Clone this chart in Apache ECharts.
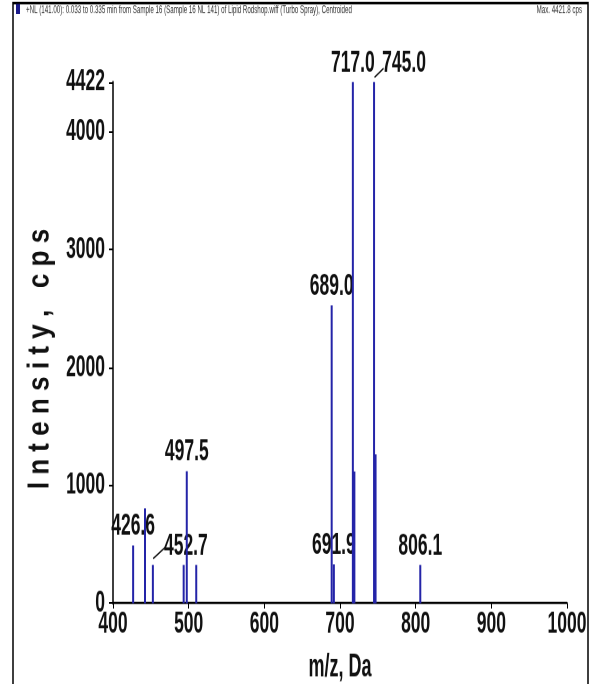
<!DOCTYPE html>
<html>
<head>
<meta charset="utf-8">
<script src="https://cdn.jsdelivr.net/npm/echarts@6/dist/echarts.min.js"></script>
<style>
html,body{margin:0;padding:0;background:#fff;overflow:hidden;}
#wrap{width:594px;height:685px;overflow:hidden;}
#chart{width:594px;transform-origin:0 0;}
</style>
</head>
<body>
<div id="wrap"><div id="chart"></div></div>
<script>
// Peak list (m/z, Da) and intensities (cps)
const peakMz = [426.6, 442.3, 452.7, 493.4, 497.5, 510.0, 689.0, 691.9, 717.0, 719.0, 745.0, 747.0, 806.1];
const peakIntensity = [490, 805, 325, 325, 1120, 325, 2527, 330, 4422, 1119, 4422, 1263, 325];
// Annotated peaks
const labelMz = [426.6, 452.7, 497.5, 689.0, 691.9, 717.0, 745.0, 806.1];
const labelIntensity = [490, 325, 1120, 2527, 330, 4422, 4422, 325];
const labelText = ['426.6', '452.7', '497.5', '689.0', '691.9', '717.0', '745.0', '806.1'];
// Axes
const xMin = 400, xMax = 1000, xStep = 100;
const yMin = 0, yMax = 4422, yStep = 1000;
const xName = 'm/z, Da';
const yName = 'I n t e n s i t y ,   c p s';
const titleText = '+NL (141.00): 0.033 to 0.335 min from Sample 16 (Sample 16 NL 141) of Lipid Rodshop.wiff (Turbo Spray), Centroided';
const maxText = 'Max. 4421.8 cps';

// ---- styling / layout (page is stretched vertically like the original print) ----
const K = 1.75;                 // vertical stretch factor
const W = 594, H = 685 / K;
const el = document.getElementById('chart');
el.style.height = H + 'px';
el.style.transform = 'scale(1,' + K + ')';
const FONT = "'Liberation Sans','Arial',sans-serif";
const LABEL_RISE = 19 / K;
const labelExtra = {
  '452.7': {dx: 33, leader: [0.3, -6.4 / K, 12, -17.4 / K]},
  '745.0': {dx: 30, leader: [0.5, -4.7 / K, 9.5, -13.7 / K]}
};

const chart = echarts.init(el, null, {renderer: 'canvas', devicePixelRatio: 2});
chart.setOption({
  animation: false,
  backgroundColor: '#fff',
  grid: {left: 113, right: 27, top: 82 / K, bottom: 81 / K, containLabel: false, outerBoundsMode: 'none'},
  xAxis: {
    type: 'value', min: xMin, max: xMax, interval: xStep,
    name: xName, nameLocation: 'middle', nameGap: 28,
    nameTextStyle: {fontFamily: FONT, fontSize: 18, fontWeight: 'bold', color: '#111'},
    axisLine: {lineStyle: {color: '#000', width: 1.3}},
    axisTick: {show: true, length: 3, lineStyle: {color: '#000'}},
    axisLabel: {fontFamily: FONT, fontSize: 17.5, fontWeight: 'bold', color: '#111', margin: 3, formatter: v => String(v)},
    splitLine: {show: false}
  },
  yAxis: {
    type: 'value', min: yMin, max: yMax, interval: yStep,
    axisLine: {show: true, lineStyle: {color: '#000', width: 1.5}},
    axisTick: {show: true, length: 4, lineStyle: {color: '#000'}},
    axisLabel: {fontFamily: FONT, fontSize: 17.5, fontWeight: 'bold', color: '#111', margin: 8, showMaxLabel: true, formatter: v => String(v)},
    splitLine: {show: false}
  },
  graphic: [
    {type: 'rect', shape: {x: 13, y: 3 / K, width: 575, height: 700 / K}, style: {fill: 'none', stroke: '#000', lineWidth: 1.5}, silent: true},
    {type: 'rect', shape: {x: 16, y: 4 / K, width: 4, height: 10 / K}, style: {fill: '#1a1a8a'}},
    {type: 'text', x: 26, y: 10 / K, style: {text: titleText, font: "6.2px 'Liberation Sans',sans-serif", fill: '#333', verticalAlign: 'middle'}},
    {type: 'text', x: 582, y: 10 / K, style: {text: maxText, font: "6.2px 'Liberation Sans',sans-serif", fill: '#333', align: 'right', verticalAlign: 'middle'}},
    {type: 'text', x: 40, y: 359 / K, rotation: Math.PI / 2, scaleX: 0.48, scaleY: 1,
      style: {text: yName, font: "bold 31px 'Liberation Sans',sans-serif", fill: '#111', align: 'center', verticalAlign: 'middle'}}
  ],
  series: [
    {
      type: 'bar',
      barWidth: 2,
      itemStyle: {color: '#2424a8'},
      data: peakMz.map((m, i) => [m, peakIntensity[i]])
    },
    {
      type: 'custom',
      clip: false,
      encode: {x: 0, y: 1},
      data: labelMz.map((m, i) => [m, labelIntensity[i], i]),
      renderItem: (params, api) => {
        const i = api.value(2);
        const pt = api.coord([api.value(0), api.value(1)]);
        const ex = labelExtra[labelText[i]] || {};
        const children = [{
          type: 'text', x: pt[0] + (ex.dx || 0), y: pt[1] - LABEL_RISE,
          style: {text: labelText[i], font: 'bold 17.5px ' + FONT, fill: '#111',
            align: 'center', verticalAlign: 'middle', textAlign: 'center', textVerticalAlign: 'middle'}
        }];
        if (ex.leader) {
          const l = ex.leader;
          children.push({type: 'line', shape: {x1: pt[0] + l[0], y1: pt[1] + l[1], x2: pt[0] + l[2], y2: pt[1] + l[3]},
            style: {stroke: '#111', lineWidth: 1}});
        }
        return {type: 'group', children};
      }
    }
  ]
});
</script>
</body>
</html>
